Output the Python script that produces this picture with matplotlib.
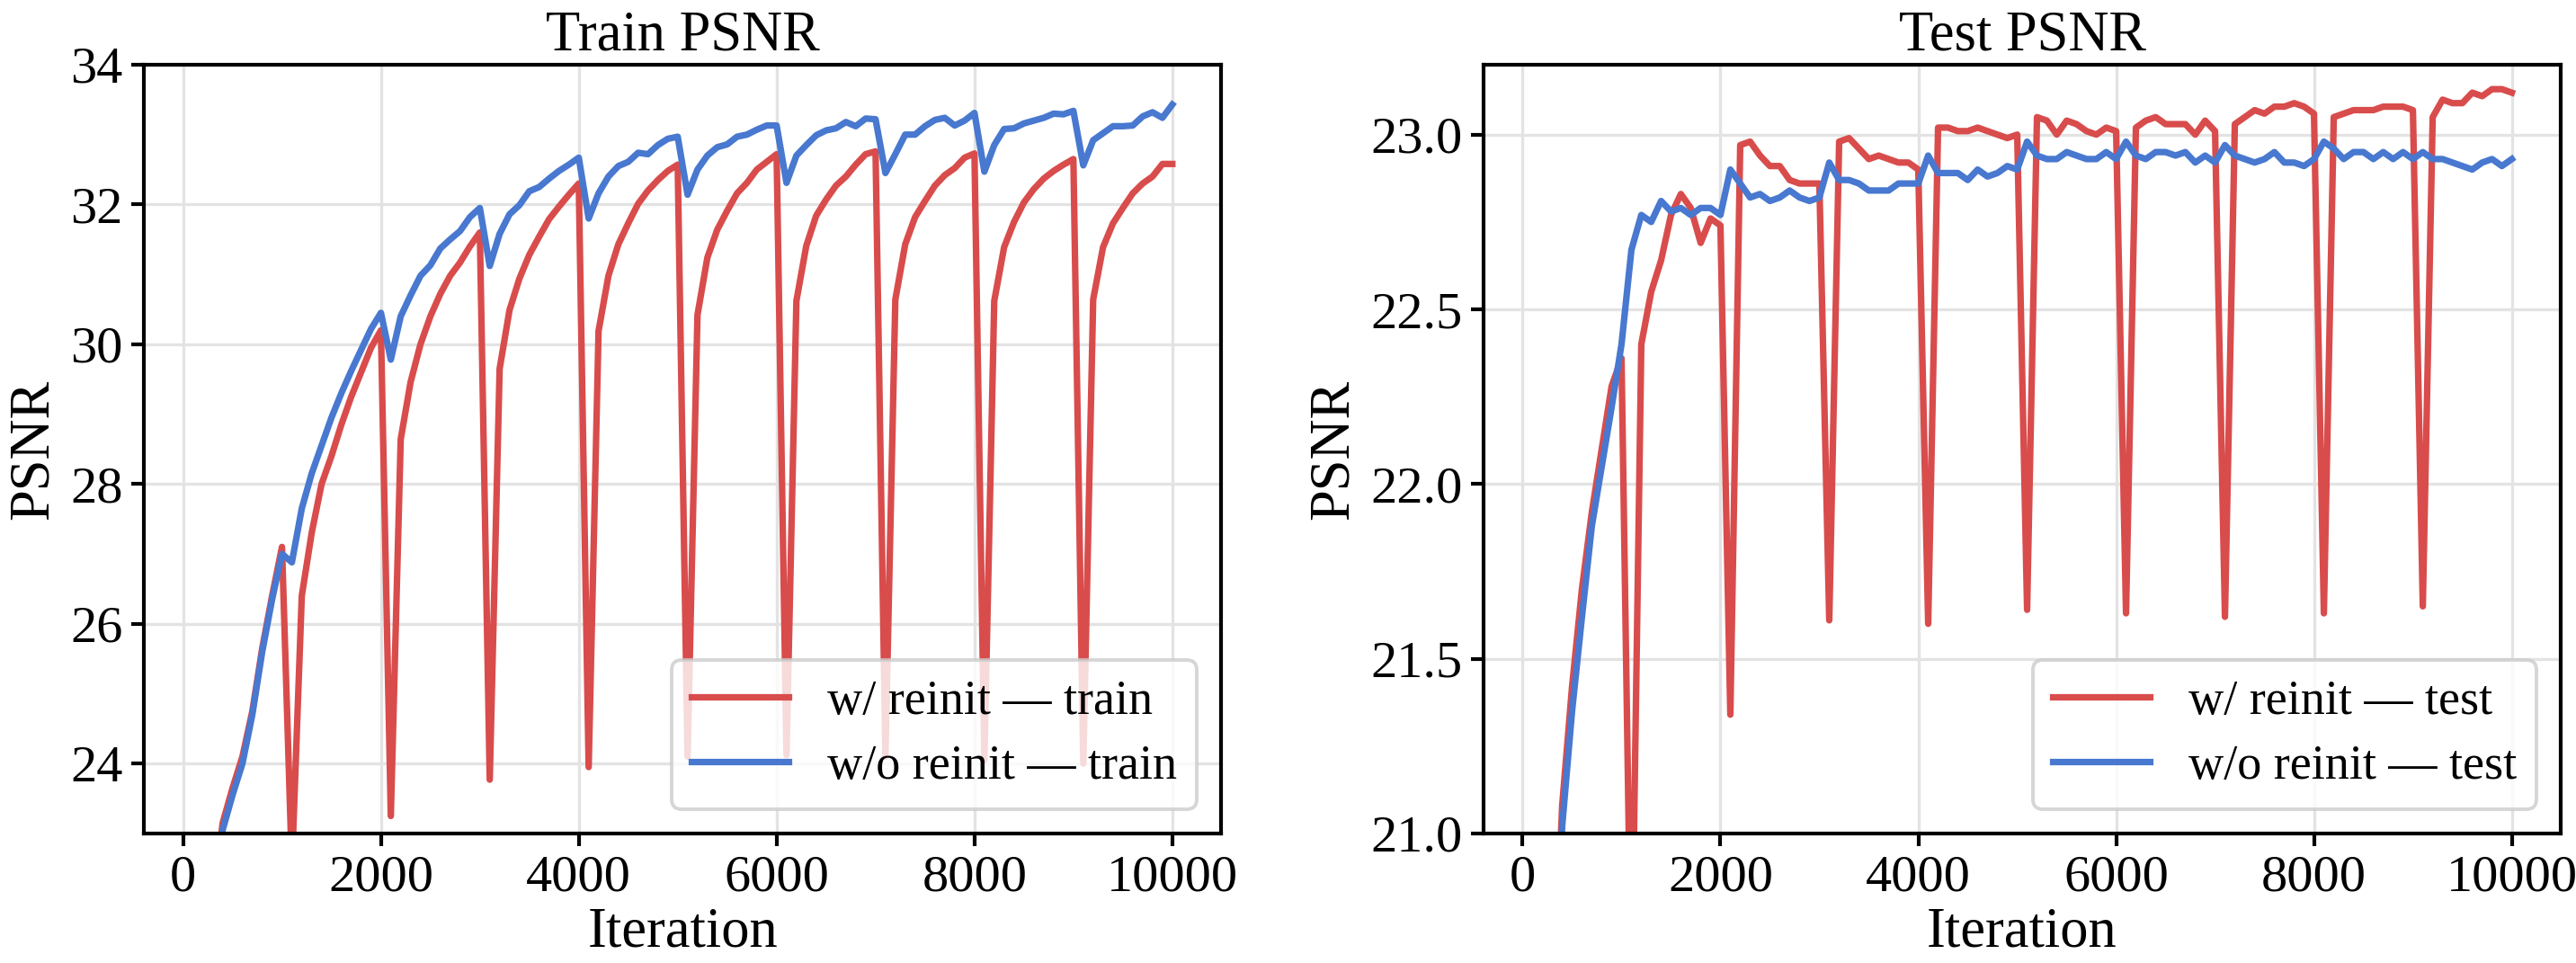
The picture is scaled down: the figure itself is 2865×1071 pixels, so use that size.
import numpy as np
import matplotlib
matplotlib.use("Agg")
from matplotlib import pyplot as plt

plt.rcParams['font.family'] = 'serif'
plt.rcParams['font.serif'] = ['Liberation Serif', 'DejaVu Serif']

# iterations (logged every 100 steps)
iters = np.arange(100, 10001, 100)

# train PSNR, with reinit every 1000 steps
train_reinit = [
    17.8, 20.3, 22.0, 23.15, 23.65, 24.1, 24.75, 25.65, 26.4, 27.1,
    22.5, 26.4, 27.3, 28.0, 28.4, 28.85, 29.25, 29.6, 29.95, 30.2,
    23.25, 28.64, 29.46, 30.0, 30.4, 30.72, 30.98, 31.17, 31.4, 31.6,
    23.77, 29.65, 30.49, 30.94, 31.28, 31.54, 31.79, 31.97, 32.14, 32.3,
    23.95, 30.19, 30.98, 31.43, 31.73, 32.01, 32.2, 32.35, 32.48, 32.57,
    24.1, 30.42, 31.24, 31.64, 31.91, 32.16, 32.31, 32.5, 32.61, 32.72,
    24.12, 30.62, 31.41, 31.84, 32.07, 32.27, 32.4, 32.57, 32.72, 32.76,
    24.1, 30.64, 31.43, 31.82, 32.05, 32.27, 32.42, 32.52, 32.67, 32.73,
    24.05, 30.62, 31.39, 31.75, 32.03, 32.22, 32.37, 32.48, 32.57, 32.65,
    24.0, 30.64, 31.39, 31.73, 31.95, 32.16, 32.3, 32.4, 32.58, 32.58,
]

# train PSNR, no reinit
train_plain = [
    17.5, 20.0, 21.8, 23.05, 23.55, 24.0, 24.7, 25.6, 26.35, 27.0,
    26.88, 27.65, 28.15, 28.55, 28.95, 29.3, 29.62, 29.92, 30.22, 30.45,
    29.78, 30.4, 30.7, 30.98, 31.13, 31.37, 31.5, 31.62, 31.82, 31.95,
    31.12, 31.58, 31.86, 31.99, 32.19, 32.25, 32.37, 32.48, 32.57, 32.67,
    31.8, 32.16, 32.4, 32.55, 32.61, 32.74, 32.72, 32.85, 32.94, 32.97,
    32.14, 32.5, 32.7, 32.82, 32.86, 32.97, 33.0, 33.07, 33.13, 33.13,
    32.31, 32.7, 32.85, 32.99, 33.06, 33.09, 33.18, 33.12, 33.23, 33.22,
    32.45, 32.72, 33.0, 33.0, 33.12, 33.21, 33.24, 33.13, 33.2, 33.31,
    32.47, 32.85, 33.08, 33.09, 33.16, 33.2, 33.24, 33.3, 33.29, 33.34,
    32.56, 32.92, 33.02, 33.12, 33.12, 33.13, 33.26, 33.32, 33.24, 33.43,
]

# test PSNR, with reinit
test_reinit = [
    17.6, 19.3, 20.4, 21.08, 21.42, 21.7, 21.92, 22.1, 22.28, 22.36,
    20.5, 22.4, 22.55, 22.64, 22.77, 22.83, 22.79, 22.69, 22.76, 22.74,
    21.34, 22.97, 22.98, 22.94, 22.91, 22.91, 22.87, 22.86, 22.86, 22.86,
    21.61, 22.98, 22.99, 22.96, 22.93, 22.94, 22.93, 22.92, 22.92, 22.9,
    21.6, 23.02, 23.02, 23.01, 23.01, 23.02, 23.01, 23.0, 22.99, 23.0,
    21.64, 23.05, 23.04, 23.0, 23.04, 23.03, 23.01, 23.0, 23.02, 23.01,
    21.63, 23.02, 23.04, 23.05, 23.03, 23.03, 23.03, 23.0, 23.04, 23.01,
    21.62, 23.03, 23.05, 23.07, 23.06, 23.08, 23.08, 23.09, 23.08, 23.06,
    21.63, 23.05, 23.06, 23.07, 23.07, 23.07, 23.08, 23.08, 23.08, 23.07,
    21.65, 23.05, 23.1, 23.09, 23.09, 23.12, 23.11, 23.13, 23.13, 23.12,
]

# test PSNR, no reinit
test_plain = [
    17.2, 19.0, 20.3, 21.02, 21.35, 21.62, 21.88, 22.05, 22.22, 22.4,
    22.67, 22.77, 22.75, 22.81, 22.78, 22.79, 22.77, 22.79, 22.79, 22.77,
    22.9, 22.86, 22.82, 22.83, 22.81, 22.82, 22.84, 22.82, 22.81, 22.82,
    22.92, 22.87, 22.87, 22.86, 22.84, 22.84, 22.84, 22.86, 22.86, 22.86,
    22.94, 22.89, 22.89, 22.89, 22.87, 22.9, 22.88, 22.89, 22.91, 22.9,
    22.98, 22.94, 22.93, 22.93, 22.95, 22.94, 22.93, 22.93, 22.95, 22.93,
    22.98, 22.94, 22.93, 22.95, 22.95, 22.94, 22.95, 22.92, 22.94, 22.92,
    22.97, 22.94, 22.93, 22.92, 22.93, 22.95, 22.92, 22.92, 22.91, 22.93,
    22.98, 22.96, 22.93, 22.95, 22.95, 22.93, 22.95, 22.93, 22.95, 22.93,
    22.95, 22.93, 22.93, 22.92, 22.91, 22.90, 22.92, 22.93, 22.91, 22.93,
]

red = '#d94c4c'
blue = '#4878cf'

fig = plt.figure(figsize=(14.325, 5.355), dpi=200)
ax1 = fig.add_axes([0.0559, 0.1345, 0.4182, 0.7983])
ax2 = fig.add_axes([0.5759, 0.1345, 0.4182, 0.7983])

panels = [
    (ax1, train_reinit, train_plain, 'train', 'Train PSNR', (23, 34), [24, 26, 28, 30, 32, 34]),
    (ax2, test_reinit, test_plain, 'test', 'Test PSNR', (21, 23.2), [21.0, 21.5, 22.0, 22.5, 23.0]),
]

for ax, yr, yp, tag, title, ylim, yticks in panels:
    ax.plot(iters, yr, color=red, lw=2.6, label='w/ reinit \u2014 ' + tag)
    ax.plot(iters, yp, color=blue, lw=2.6, label='w/o reinit \u2014 ' + tag)
    ax.set_ylim(*ylim)
    ax.set_yticks(yticks)
    if tag == 'test':
        ax.set_yticklabels(['%.1f' % v for v in yticks])
    ax.set_xticks([0, 2000, 4000, 6000, 8000, 10000])
    ax.set_axisbelow(True)
    ax.grid(True, color='#e3e3e3', lw=1.2)
    for s in ax.spines.values():
        s.set_linewidth(1.5)
    ax.tick_params(labelsize=21, length=5, width=1.5)
    ax.set_title(title, fontsize=22.5)
    ax.set_xlabel('Iteration', fontsize=22.5, labelpad=2)
    ax.set_ylabel('PSNR', fontsize=22.5)
    leg = ax.legend(loc='lower right', fontsize=19.5, framealpha=0.8,
                    edgecolor='0.8', labelspacing=0.4)
    leg.get_frame().set_linewidth(1.4)

plt.savefig('out.png', dpi=200)
